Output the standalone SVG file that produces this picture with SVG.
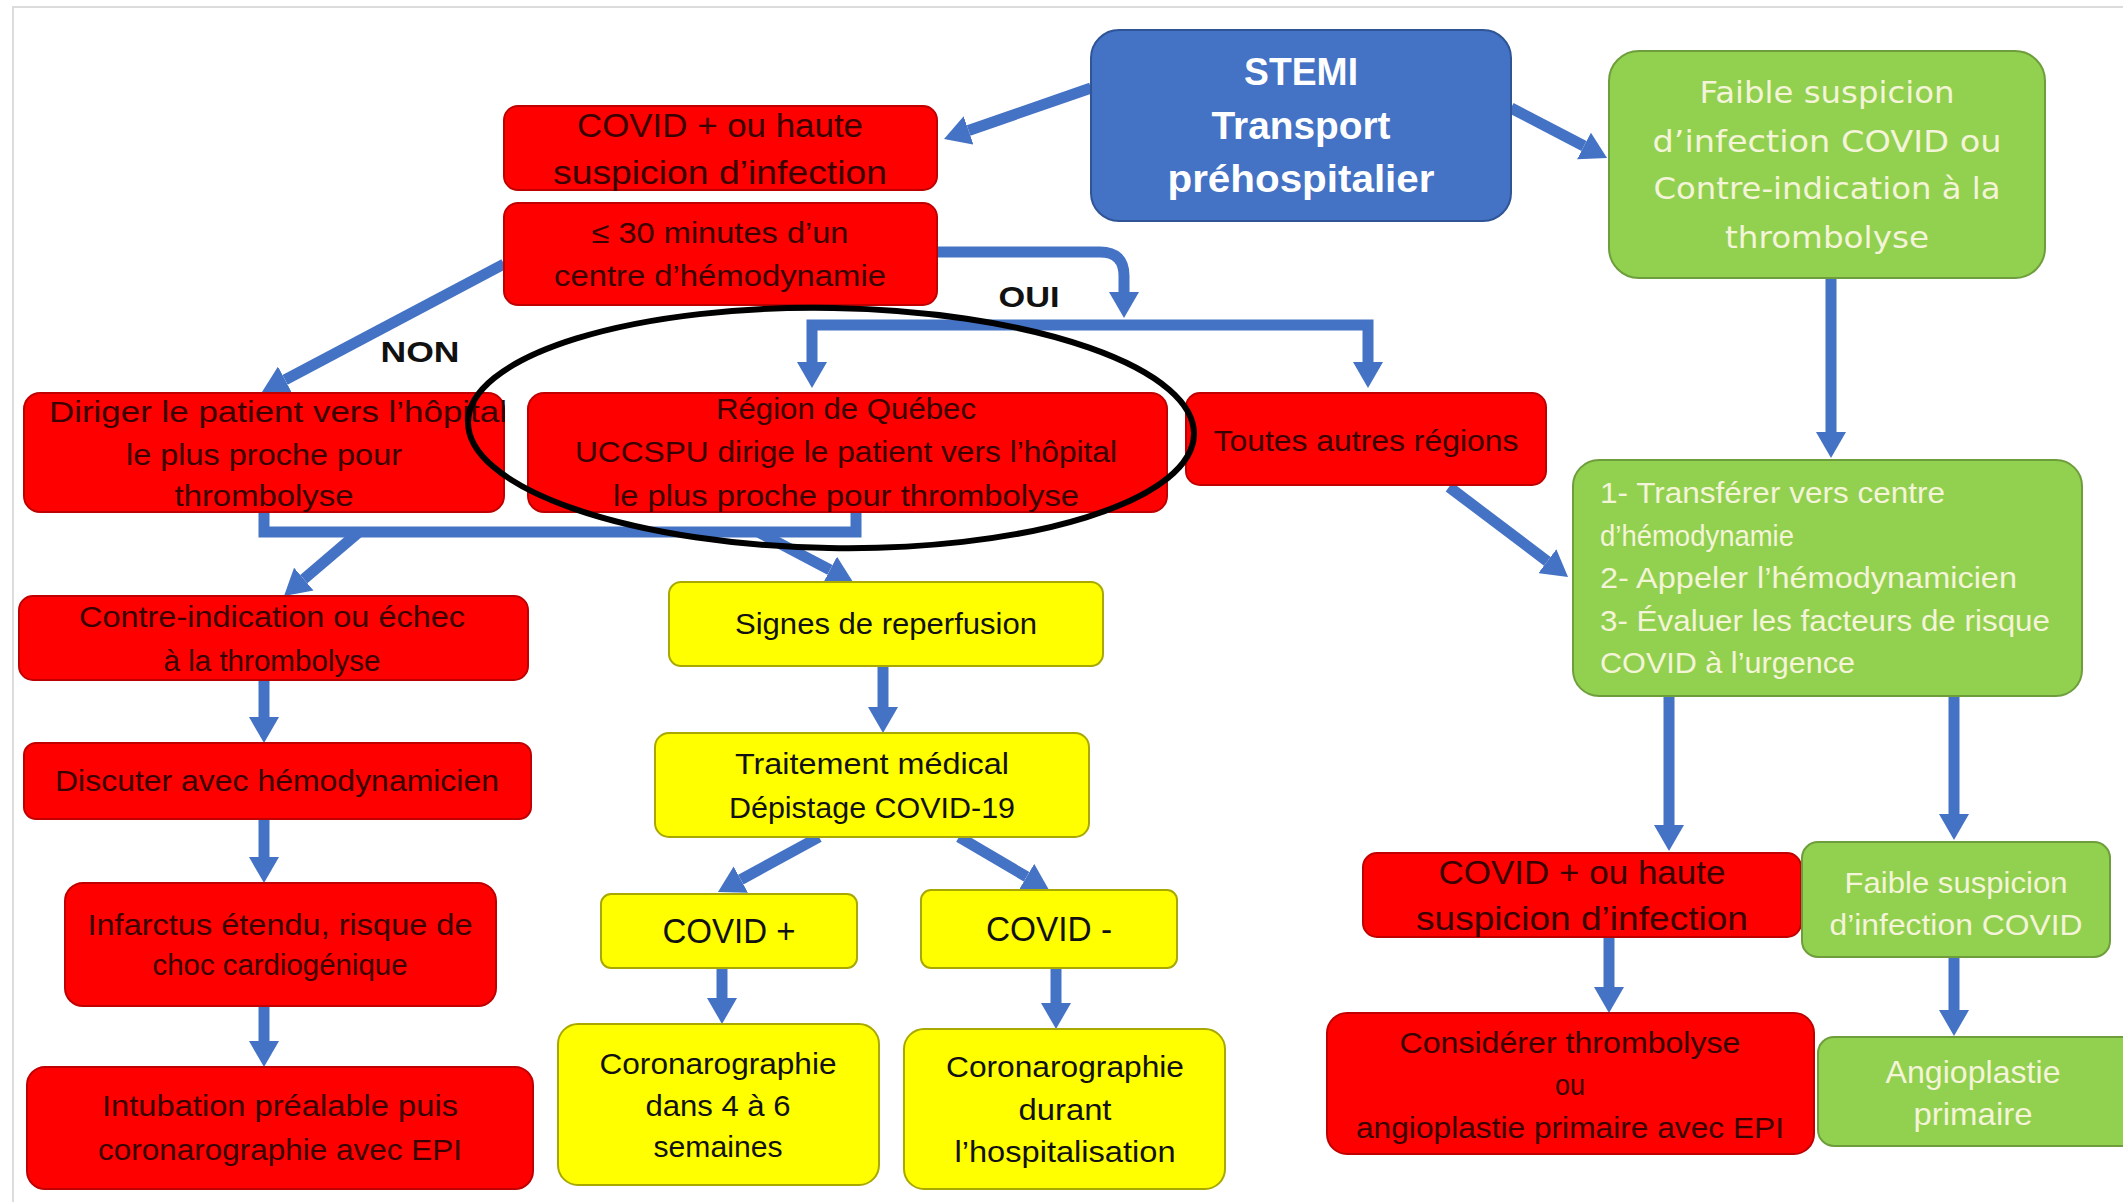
<svg xmlns="http://www.w3.org/2000/svg" width="2123" height="1202" viewBox="0 0 2123 1202">
<style>
.r{fill:#FF0000;stroke:#C00000;stroke-width:2}
.y{fill:#FFFF00;stroke:#A8A800;stroke-width:2}
.g{fill:#92D050;stroke:#6E9E3C;stroke-width:2}
.b{fill:#4472C4;stroke:#2F5597;stroke-width:2}
text{font-family:"Liberation Sans",Arial,sans-serif;text-anchor:middle}
.tr{font-size:30px;fill:#3a0000}
.ty{font-size:30px;fill:#111}
.tg{font-size:30px;fill:#F4F4D8}
.tgw{font-family:"DejaVu Sans",Verdana,sans-serif;font-size:31px;fill:#F4F4D8}
.tb{font-size:38px;font-weight:bold;fill:#FFFFFF}
.lbl{font-size:30px;font-weight:bold;fill:#111}
.c{fill:none;stroke:#4472C4;stroke-width:11}
.ca{fill:none;stroke:#4472C4;stroke-width:11;marker-end:url(#ah)}
</style>
<defs>
<marker id="ah" markerUnits="userSpaceOnUse" viewBox="0 0 26 30" markerWidth="26" markerHeight="30" refX="0" refY="15" orient="auto">
<path d="M0,0 L26,15 L0,30 z" fill="#4472C4"/>
</marker>
</defs>
<rect x="0" y="0" width="2123" height="1202" fill="#FFFFFF"/>
<rect x="13" y="7" width="2120" height="1200" fill="none" stroke="#DCDCDC" stroke-width="2"/>

<g id="connectors">
<path class="ca" d="M1091,88 L968.6,130.5"/>
<path class="ca" d="M1511,108 L1584,146"/>
<path class="ca" d="M504,264 L285,379.8"/>
<path class="ca" d="M937,252 H1100 Q1124,252 1124,276 V292"/>
<path class="ca" d="M1090,325 H812 V362"/>
<path class="ca" d="M1090,325 H1368 V362"/>
<path class="c" d="M264,512 V532 H856 V512"/>
<path class="ca" d="M359,532 L303.8,579.1"/>
<path class="ca" d="M758,532 L830,569.9"/>
<path class="ca" d="M1449,487 L1547.3,561.3"/>
<path class="ca" d="M1831,278 V432"/>
<path class="ca" d="M264,680 V717"/>
<path class="ca" d="M264,819 V857"/>
<path class="ca" d="M264,1006 V1041"/>
<path class="ca" d="M883,666 V707"/>
<path class="ca" d="M819,837 L740.8,879.6"/>
<path class="ca" d="M959,837 L1026.6,876.8"/>
<path class="ca" d="M722,968 V998"/>
<path class="ca" d="M1056,968 V1003"/>
<path class="ca" d="M1669,696 V825"/>
<path class="ca" d="M1954,696 V814"/>
<path class="ca" d="M1609,937 V987"/>
<path class="ca" d="M1954,957 V1010"/>
</g>

<g id="stemi">
<rect class="b" x="1091" y="30" width="420" height="191" rx="28"/>
<text class="tb" x="1301" y="85" textLength="114" lengthAdjust="spacingAndGlyphs">STEMI</text>
<text class="tb" x="1301" y="139" textLength="179" lengthAdjust="spacingAndGlyphs">Transport</text>
<text class="tb" x="1301" y="192" textLength="267" lengthAdjust="spacingAndGlyphs">préhospitalier</text>
</g>

<g id="covid-top">
<rect class="r" x="504" y="106" width="433" height="84" rx="14"/>
<text class="tr" style="font-size:34px" x="720" y="137" textLength="286" lengthAdjust="spacingAndGlyphs">COVID + ou haute</text>
<text class="tr" style="font-size:34px" x="720" y="184" textLength="334" lengthAdjust="spacingAndGlyphs">suspicion d’infection</text>
</g>

<g id="trente-minutes">
<rect class="r" x="504" y="203" width="433" height="102" rx="14"/>
<text class="tr" x="720" y="243" textLength="257" lengthAdjust="spacingAndGlyphs">≤ 30 minutes d’un</text>
<text class="tr" x="720" y="286" textLength="332" lengthAdjust="spacingAndGlyphs">centre d’hémodynamie</text>
</g>

<g id="faible-top">
<rect class="g" x="1609" y="51" width="436" height="227" rx="30"/>
<text class="tgw" x="1827" y="103" textLength="255" lengthAdjust="spacingAndGlyphs">Faible suspicion</text>
<text class="tgw" x="1827" y="152" textLength="349" lengthAdjust="spacingAndGlyphs">d’infection COVID ou</text>
<text class="tgw" x="1827" y="199" textLength="347" lengthAdjust="spacingAndGlyphs">Contre-indication à la</text>
<text class="tgw" x="1827" y="248" textLength="204" lengthAdjust="spacingAndGlyphs">thrombolyse</text>
</g>

<g id="diriger">
<rect class="r" x="24" y="393" width="480" height="119" rx="16"/>
<text class="tr" style="text-anchor:start" x="49" y="422" textLength="458" lengthAdjust="spacingAndGlyphs">Diriger le patient vers l’hôpital</text>
<text class="tr" x="264" y="465" textLength="276" lengthAdjust="spacingAndGlyphs">le plus proche pour</text>
<text class="tr" x="264" y="506" textLength="179" lengthAdjust="spacingAndGlyphs">thrombolyse</text>
</g>

<g id="region-quebec">
<rect class="r" x="528" y="393" width="639" height="119" rx="16"/>
<text class="tr" x="846" y="419" textLength="260" lengthAdjust="spacingAndGlyphs">Région de Québec</text>
<text class="tr" x="846" y="462" textLength="542" lengthAdjust="spacingAndGlyphs">UCCSPU dirige le patient vers l’hôpital</text>
<text class="tr" x="846" y="506" textLength="466" lengthAdjust="spacingAndGlyphs">le plus proche pour thrombolyse</text>
</g>

<g id="toutes-autres">
<rect class="r" x="1186" y="393" width="360" height="92" rx="14"/>
<text class="tr" x="1366" y="451" textLength="305" lengthAdjust="spacingAndGlyphs">Toutes autres régions</text>
</g>

<g id="contre-indication">
<rect class="r" x="19" y="596" width="509" height="84" rx="14"/>
<text class="tr" x="272" y="627" textLength="386" lengthAdjust="spacingAndGlyphs">Contre-indication ou échec</text>
<text class="tr" x="272" y="671" textLength="217" lengthAdjust="spacingAndGlyphs">à la thrombolyse</text>
</g>

<g id="signes">
<rect class="y" x="669" y="582" width="434" height="84" rx="12"/>
<text class="ty" x="886" y="634" textLength="302" lengthAdjust="spacingAndGlyphs">Signes de reperfusion</text>
</g>

<g id="discuter">
<rect class="r" x="24" y="743" width="507" height="76" rx="12"/>
<text class="tr" x="277" y="791" textLength="444" lengthAdjust="spacingAndGlyphs">Discuter avec hémodynamicien</text>
</g>

<g id="traitement">
<rect class="y" x="655" y="733" width="434" height="104" rx="14"/>
<text class="ty" x="872" y="774" textLength="274" lengthAdjust="spacingAndGlyphs">Traitement médical</text>
<text class="ty" x="872" y="818" textLength="286" lengthAdjust="spacingAndGlyphs">Dépistage COVID-19</text>
</g>

<g id="infarctus">
<rect class="r" x="65" y="883" width="431" height="123" rx="18"/>
<text class="tr" x="280" y="935" textLength="385" lengthAdjust="spacingAndGlyphs">Infarctus étendu, risque de</text>
<text class="tr" x="280" y="975" textLength="255" lengthAdjust="spacingAndGlyphs">choc cardiogénique</text>
</g>

<g id="covid-plus">
<rect class="y" x="601" y="894" width="256" height="74" rx="10"/>
<text class="ty" style="font-size:35px" x="729" y="943" textLength="133" lengthAdjust="spacingAndGlyphs">COVID +</text>
</g>

<g id="covid-moins">
<rect class="y" x="921" y="890" width="256" height="78" rx="10"/>
<text class="ty" style="font-size:35px" x="1049" y="941" textLength="126" lengthAdjust="spacingAndGlyphs">COVID -</text>
</g>

<g id="intubation">
<rect class="r" x="27" y="1067" width="506" height="122" rx="18"/>
<text class="tr" x="280" y="1116" textLength="356" lengthAdjust="spacingAndGlyphs">Intubation préalable puis</text>
<text class="tr" x="280" y="1160" textLength="364" lengthAdjust="spacingAndGlyphs">coronarographie avec EPI</text>
</g>

<g id="coronaro-4-6">
<rect class="y" x="558" y="1024" width="321" height="161" rx="20"/>
<text class="ty" x="718" y="1074" textLength="237" lengthAdjust="spacingAndGlyphs">Coronarographie</text>
<text class="ty" x="718" y="1116" textLength="145" lengthAdjust="spacingAndGlyphs">dans 4 à 6</text>
<text class="ty" x="718" y="1157" textLength="129" lengthAdjust="spacingAndGlyphs">semaines</text>
</g>

<g id="coronaro-hospit">
<rect class="y" x="904" y="1029" width="321" height="160" rx="20"/>
<text class="ty" x="1065" y="1077" textLength="238" lengthAdjust="spacingAndGlyphs">Coronarographie</text>
<text class="ty" x="1065" y="1120" textLength="93" lengthAdjust="spacingAndGlyphs">durant</text>
<text class="ty" x="1065" y="1162" textLength="221" lengthAdjust="spacingAndGlyphs">l’hospitalisation</text>
</g>

<g id="transferer">
<rect class="g" x="1573" y="460" width="509" height="236" rx="26"/>
<text class="tg" style="text-anchor:start" x="1600" y="503" textLength="345" lengthAdjust="spacingAndGlyphs">1- Transférer  vers centre</text>
<text class="tg" style="text-anchor:start" x="1600" y="546" textLength="194" lengthAdjust="spacingAndGlyphs">d’hémodynamie</text>
<text class="tg" style="text-anchor:start" x="1600" y="588" textLength="417" lengthAdjust="spacingAndGlyphs">2- Appeler  l’hémodynamicien</text>
<text class="tg" style="text-anchor:start" x="1600" y="631" textLength="450" lengthAdjust="spacingAndGlyphs">3- Évaluer  les facteurs  de risque</text>
<text class="tg" style="text-anchor:start" x="1600" y="673" textLength="255" lengthAdjust="spacingAndGlyphs">COVID à l’urgence</text>
</g>

<g id="covid-right">
<rect class="r" x="1363" y="853" width="438" height="84" rx="14"/>
<text class="tr" style="font-size:34px" x="1582" y="884" textLength="287" lengthAdjust="spacingAndGlyphs">COVID + ou haute</text>
<text class="tr" style="font-size:34px" x="1582" y="930" textLength="332" lengthAdjust="spacingAndGlyphs">suspicion d’infection</text>
</g>

<g id="faible-right">
<rect class="g" x="1802" y="842" width="308" height="115" rx="16"/>
<text class="tg" x="1956" y="893" textLength="223" lengthAdjust="spacingAndGlyphs">Faible suspicion</text>
<text class="tg" x="1956" y="935" textLength="253" lengthAdjust="spacingAndGlyphs">d’infection COVID</text>
</g>

<g id="considerer">
<rect class="r" x="1327" y="1013" width="487" height="141" rx="20"/>
<text class="tr" x="1570" y="1053" textLength="341" lengthAdjust="spacingAndGlyphs">Considérer  thrombolyse</text>
<text class="tr" x="1570" y="1095" textLength="30" lengthAdjust="spacingAndGlyphs">ou</text>
<text class="tr" x="1570" y="1138" textLength="428" lengthAdjust="spacingAndGlyphs">angioplastie primaire avec EPI</text>
</g>

<g id="angioplastie">
<rect class="g" x="1818" y="1037" width="320" height="109" rx="16"/>
<text class="tg" style="font-size:32px" x="1973" y="1083" textLength="175" lengthAdjust="spacingAndGlyphs">Angioplastie</text>
<text class="tg" style="font-size:32px" x="1973" y="1125" textLength="119" lengthAdjust="spacingAndGlyphs">primaire</text>
</g>

<g id="labels">
<text class="lbl" x="420" y="362" textLength="79" lengthAdjust="spacingAndGlyphs">NON</text>
<text class="lbl" x="1029" y="307" textLength="61" lengthAdjust="spacingAndGlyphs">OUI</text>
</g>

<g id="highlight">
<ellipse cx="831" cy="428" rx="363" ry="120" fill="none" stroke="#000000" stroke-width="6" transform="rotate(1 831 428)"/>
</g>
</svg>
